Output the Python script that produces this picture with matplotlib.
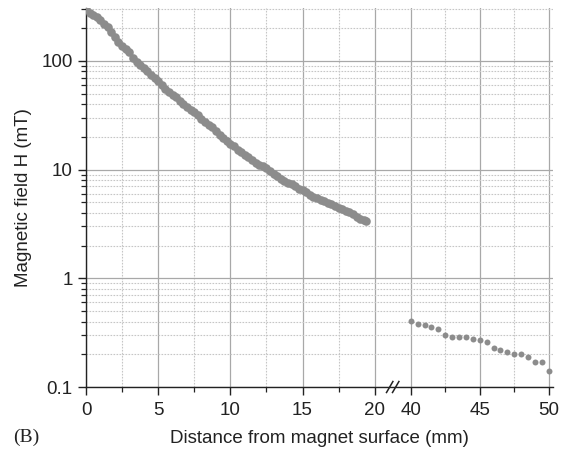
import numpy as np
import matplotlib
matplotlib.use("Agg")
import matplotlib.pyplot as plt
from matplotlib.ticker import FixedLocator, FixedFormatter, LogLocator, NullFormatter
from matplotlib.lines import Line2D

plt.rcParams['font.family'] = ['Liberation Sans', 'DejaVu Sans']

# Field measured close to the magnet (0-20 mm), step 0.25 mm
near_distance = [
    0.0, 0.25, 0.5, 0.75, 1.0, 1.25, 1.5, 1.75, 2.0, 2.25, 2.5, 2.75, 3.0, 3.25,
    3.5, 3.75, 4.0, 4.25, 4.5, 4.75, 5.0, 5.25, 5.5, 5.75, 6.0, 6.25, 6.5, 6.75,
    7.0, 7.25, 7.5, 7.75, 8.0, 8.25, 8.5, 8.75, 9.0, 9.25, 9.5, 9.75, 10.0,
    10.25, 10.5, 10.75, 11.0, 11.25, 11.5, 11.75, 12.0, 12.25, 12.5, 12.75,
    13.0, 13.25, 13.5, 13.75, 14.0, 14.25, 14.5, 14.75, 15.0, 15.25, 15.5,
    15.75, 16.0, 16.25, 16.5, 16.75, 17.0, 17.25, 17.5, 17.75, 18.0, 18.25,
    18.5, 18.75, 19.0, 19.25, 19.4,
]
near_field = [
    300, 275, 262, 252, 236, 218, 205, 183, 166, 150, 138, 130, 120, 107,
    97, 91, 86, 80, 74, 69, 65, 60, 55, 51.5, 48.5, 46.5, 43, 40,
    38, 35.5, 34, 32, 29.5, 27.5, 26, 24.5, 22.5, 21, 19.5, 18.5, 17.2,
    16.5, 15.3, 14.4, 13.5, 13.0, 12.3, 11.6, 11.1, 10.8, 10.4, 9.8,
    9.2, 8.7, 8.2, 7.9, 7.6, 7.3, 7.0, 6.7, 6.45, 6.2, 5.9,
    5.65, 5.45, 5.3, 5.1, 4.95, 4.78, 4.6, 4.45, 4.35, 4.2, 4.1,
    3.9, 3.7, 3.5, 3.42, 3.38,
]

# Field measured far from the magnet (40-50 mm), step 0.5 mm
far_distance = [40.0, 40.5, 41.0, 41.5, 42.0, 42.5, 43.0, 43.5, 44.0, 44.5,
                45.0, 45.5, 46.0, 46.5, 47.0, 47.5, 48.0, 48.5, 49.0, 49.5, 50.0]
far_field = [0.402, 0.382, 0.372, 0.354, 0.340, 0.303, 0.290, 0.290, 0.290,
             0.278, 0.271, 0.259, 0.230, 0.220, 0.211, 0.200, 0.201, 0.190,
             0.170, 0.170, 0.140]

x_major = [0, 5, 10, 15, 20, 40, 45, 50]
x_minor = [2.5, 7.5, 12.5, 17.5, 42.5, 47.5]
y_major = [0.1, 1, 10, 100]
y_major_labels = ['0.1', '1', '10', '100']

# Broken x axis: 20-40 mm squeezed into a short gap, right part slightly compressed
GAP_K = 0.12457
RIGHT_K = 0.9571
U40 = 20 + 20 * GAP_K


def fwd(x):
    x = np.asarray(x, dtype=float)
    return np.where(x <= 20, x,
                    np.where(x < 40, 20 + (x - 20) * GAP_K,
                             U40 + (x - 40) * RIGHT_K))


def inv(u):
    u = np.asarray(u, dtype=float)
    return np.where(u <= 20, u,
                    np.where(u < U40, 20 + (u - 20) / GAP_K,
                             40 + (u - U40) / RIGHT_K))


W, H = 563, 450
fig = plt.figure(figsize=(W / 100, H / 100), dpi=100)
ax = fig.add_axes([86 / W, 1 - 387 / H, 467 / W, 379 / H])

ax.set_xscale('function', functions=(fwd, inv))
ax.set_yscale('log')
ax.set_xlim(0, 50.3)
ax.set_ylim(0.1, 307)

dot_color = '#8c8c8c'
ax.plot(near_distance, near_field, 'o', color=dot_color, ms=6.2, mec='none', zorder=3)
ax.plot(far_distance, far_field, 'o', color=dot_color, ms=4.3, mec='none', zorder=3)

ax.xaxis.set_major_locator(FixedLocator(x_major))
ax.xaxis.set_minor_locator(FixedLocator(x_minor))
ax.xaxis.set_minor_formatter(NullFormatter())
ax.set_xticklabels([str(v) for v in x_major])

ax.yaxis.set_major_locator(FixedLocator(y_major))
ax.yaxis.set_major_formatter(FixedFormatter(y_major_labels))
ax.yaxis.set_minor_locator(LogLocator(base=10, subs=np.arange(2, 10), numticks=20))
ax.yaxis.set_minor_formatter(NullFormatter())

ax.grid(which='major', color='#a8a8a8', lw=0.9, ls='-', zorder=0)
ax.grid(which='minor', color='#c6c6c6', lw=0.8, ls=(0, (1.5, 1.2)), zorder=0)
ax.set_axisbelow(True)

for s in ('top', 'right'):
    ax.spines[s].set_visible(False)
for s in ('left', 'bottom'):
    ax.spines[s].set_linewidth(1.0)
    ax.spines[s].set_color('#222222')

ax.tick_params(which='major', direction='out', length=6, width=1.0,
               labelsize=13.5, color='#222222', labelcolor='#222222')
ax.tick_params(which='minor', direction='out', length=3.5, width=0.9, color='#222222')
ax.tick_params(axis='x', which='major', pad=5)

ax.set_xlabel('Distance from magnet surface (mm)', fontsize=13.5, labelpad=8, color='#222222')
ax.set_ylabel('Magnetic field H (mT)', fontsize=13.5, labelpad=7, color='#222222')

# Break marks on the x axis, centred in the squeezed gap
x_disp = ax.transData.transform((30, 1))[0]
y_disp = ax.transAxes.transform((0, 0))[1]
to_fig = fig.transFigure.inverted()
for dx in (-3.0, 3.0):
    p0 = to_fig.transform((x_disp + dx - 3.2, y_disp - 5.5))
    p1 = to_fig.transform((x_disp + dx + 3.2, y_disp + 5.5))
    fig.add_artist(Line2D([p0[0], p1[0]], [p0[1], p1[1]], color='#222222',
                          lw=1.1, transform=fig.transFigure))

fig.text(13 / W, 1 - 437 / H, '(B)', family=['Liberation Serif', 'DejaVu Serif'],
         fontsize=14, va='center', ha='left', color='#222222')

fig.savefig('out.png', dpi=100)
